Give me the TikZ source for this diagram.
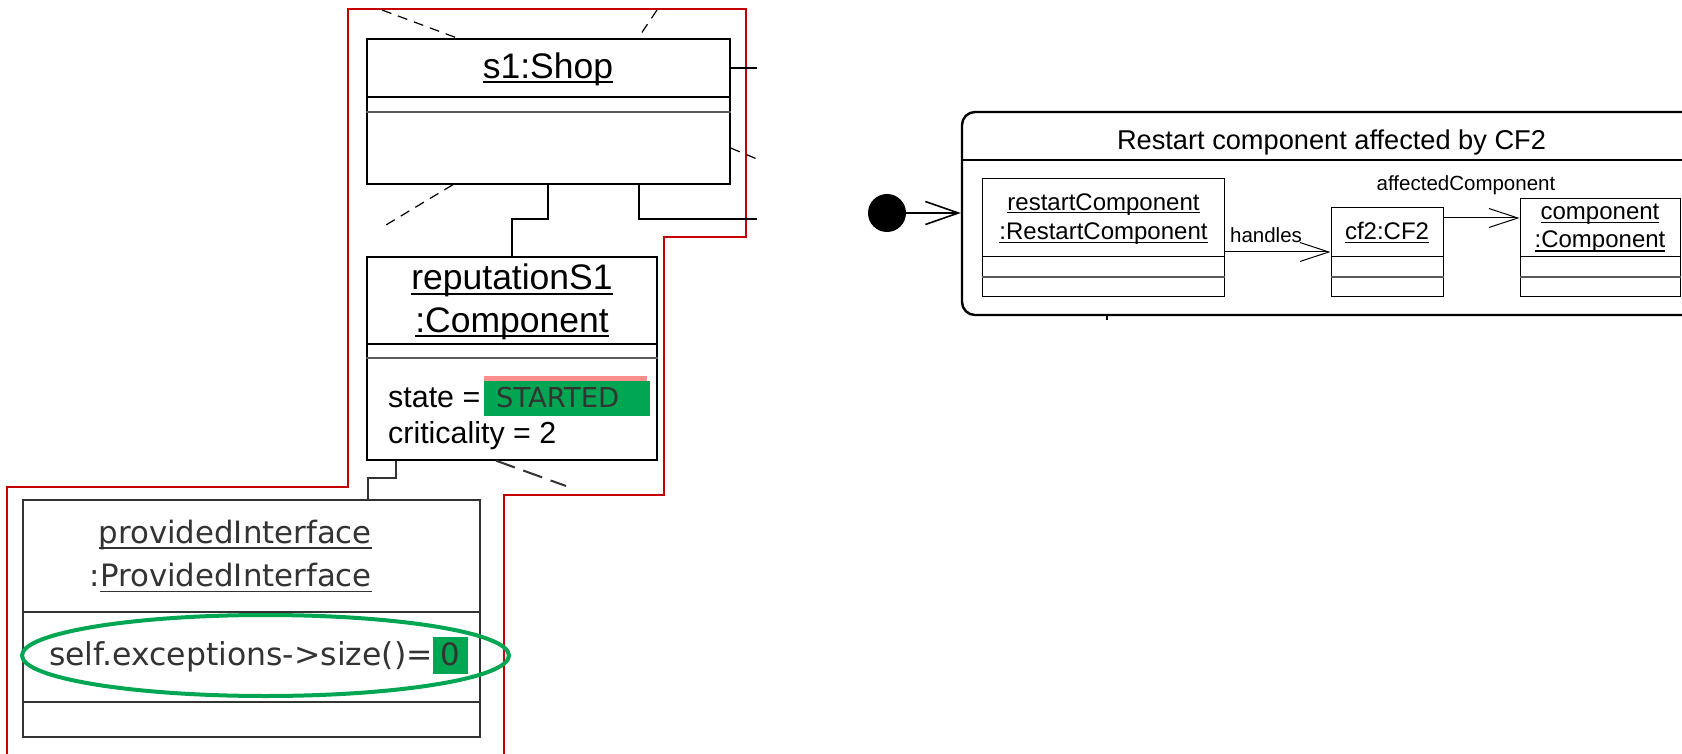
\documentclass[tikz,border=0pt]{standalone}
\usepackage{fontspec}
\setmainfont{Liberation Sans}
\newfontfamily\dejavu{DejaVu Sans}
\usetikzlibrary{arrows.meta,fit,calc}

\definecolor{okgreen}{RGB}{0,166,81}
\definecolor{hlred}{RGB}{196,0,0}
\definecolor{pinkbar}{RGB}{255,143,143}
\definecolor{inkgray}{RGB}{51,51,51}
\definecolor{rulegray}{RGB}{90,90,90}

% underline with an adjustable drop below the baseline
\newcommand\objul[2][0.11em]{\setbox0=\hbox{#2}\rlap{\rule[-#1]{\wd0}{0.05em}}\box0}

\tikzset{
  objbox/.style={draw=black, line width=1.3pt, inner sep=0pt},
  smallbox/.style={draw=black, line width=1pt, inner sep=0pt},
  graybox/.style={draw=inkgray, line width=2.3pt, inner sep=0pt},
  rule1/.style={draw=black, line width=1.3pt},
  rule2/.style={draw=rulegray, line width=1.8pt},
  srule1/.style={draw=black, line width=1pt},
  srule2/.style={draw=rulegray, line width=1.3pt},
  link/.style={draw=black, line width=1.3pt},
  frag/.style={draw=black, line width=1.2pt, dash pattern=on 10pt off 7pt},
  lbl/.style={inner sep=0pt, anchor=base},
  big/.style={lbl, font=\fontsize{35.5}{40}\selectfont},
  attr/.style={lbl, anchor=base west, font=\fontsize{30.4}{34}\selectfont},
  small/.style={lbl, font=\fontsize{24}{28}\selectfont},
  tiny/.style={lbl, font=\fontsize{20.5}{24}\selectfont},
  verd/.style={lbl, text=inkgray, font=\dejavu\fontsize{30.8}{35}\selectfont},
  assoc/.style={draw=black, line width=1pt, -{Straight Barb[length=29pt, width=19pt]}},
}

\begin{document}
\begin{tikzpicture}[x=1pt, y=-1pt]
\useasboundingbox (0,0) rectangle (1682,754);
\clip (0,0) rectangle (1682,754);

% highlighted region
\draw[hlred, line width=2.5pt] (7,770) -- (7,487) -- (348,487) -- (348,9) -- (746,9)
  -- (746,237) -- (664,237) -- (664,495) -- (504,495) -- (504,770);

% s1:Shop
\node[objbox, fit={(367,39)(730,184)}] (shop) {};
\draw[rule1] (shop.west |- 0,97) -- (shop.east |- 0,97);
\draw[rule2] (shop.west |- 0,112) -- (shop.east |- 0,112);
\node[big] (shopname) at (548,79) {\objul[0.1em]{s1:Shop}};

% reputationS1:Component
\node[objbox, fit={(367,257)(657,460)}] (rep) {};
\draw[rule1] (rep.west |- 0,344) -- (rep.east |- 0,344);
\draw[rule2] (rep.west |- 0,358) -- (rep.east |- 0,358);
\node[big] (repname1) at (512,290) {\objul[0.13em]{reputationS1}};
\node[big] (repname2) at (512,332) {\objul[0.14em]{:Component}};
\fill[pinkbar] (484,376) rectangle (647,381);
\fill[okgreen] (484,381) rectangle (650,416);
\node[attr] (stateattr) at (388,407) {state =};
\node[lbl, anchor=base west, text=inkgray, font=\dejavu\fontsize{27.4}{31}\selectfont] (stateval) at (496,407) {STARTED};
\node[attr] (critattr) at (388,443) {criticality = 2};

% providedInterface:ProvidedInterface
\node[graybox, fit={(23,500)(480,737)}] (prov) {};
\draw[draw=inkgray, line width=2.3pt] (prov.west |- 0,612) -- (prov.east |- 0,612);
\draw[draw=inkgray, line width=2.3pt] (prov.west |- 0,702) -- (prov.east |- 0,702);
\node[verd, anchor=base east] (provname1) at (372,543) {\objul[0.19em]{providedInterface}};
\node[verd, anchor=base east] (provname2) at (372,586) {:\objul[0.2em]{ProvidedInterface}};
\fill[okgreen] (433,637) rectangle (468,674);
\node[verd, anchor=base west, font=\dejavu\fontsize{31.5}{35}\selectfont] (provexpr) at (49,665) {self.exceptions->size()=};
\node[verd] (provval) at (450.5,665) {0};
\draw[okgreen, line width=4pt] (265.5,655.5) ellipse [x radius=243.5pt, y radius=40.5pt];

% links between the objects
\draw[link] (shop.south -| 548,0) |- (512,219) -- (rep.north -| 512,0);
\draw[draw=inkgray, line width=2pt] (rep.south -| 396,0) |- (368,478) -- (prov.north -| 368,0);

% links leaving towards objects further out
\coordinate (outA) at (757,68);
\coordinate (outB) at (757,219);
\coordinate (outC) at (382,10);
\coordinate (outD) at (657,10);
\coordinate (outE) at (757,159);
\coordinate (outF) at (381,228);
\coordinate (outG) at (566,486);
\draw[link] (shop.east |- outA) -- (outA);
\draw[link] (shop.south -| 639,0) |- (outB);
\draw[frag] (outC) -- (shop.north -| 458,0);
\draw[frag] (outD) -- (shop.north -| 638,0);
\draw[frag] (shop.east |- 0,148) -- (outE);
\draw[frag] (shop.south -| 453,0) -- (outF);
\draw[draw=inkgray, line width=2pt, dash pattern=on 20pt off 9pt] (rep.south -| 496,0) -- (outG);

% activity: restart component affected by CF2
\node[draw=black, line width=2.4pt, rounded corners=13pt, inner sep=0pt, fit={(962,112)(1740,315)}] (state) {};
\draw[draw=black, line width=2.4pt] (state.west |- 0,160) -- (state.east |- 0,160);
\node[lbl, font=\fontsize{27.2}{31}\selectfont] (statetitle) at (1331.5,150) {Restart component affected by CF2};
\draw[draw=black, line width=1.6pt] (state.south -| 1107,0) -- ++(0,4);

\node[circle, fill=black, minimum size=38pt, inner sep=0pt] (init) at (887,213) {};
\draw[draw=black, line width=1.6pt, -{Straight Barb[length=33pt, width=23pt]}] (init.east) -- (init -| state.west);

\node[smallbox, fit={(982,179)(1224,296)}] (restart) {};
\draw[srule1] (restart.west |- 0,257) -- (restart.east |- 0,257);
\draw[srule2] (restart.west |- 0,277) -- (restart.east |- 0,277);
\node[small] (restartname1) at (1103.5,211) {\objul[0.1em]{restartComponent}};
\node[small] (restartname2) at (1103.5,240) {\objul[0.12em]{:RestartComponent}};

\node[smallbox, fit={(1331,208)(1443,296)}] (cf2) {};
\draw[srule1] (cf2.west |- 0,257) -- (cf2.east |- 0,257);
\draw[srule2] (cf2.west |- 0,277) -- (cf2.east |- 0,277);
\node[small] (cf2name) at (1387,240) {\objul[0.12em]{cf2:CF2}};

\node[smallbox, fit={(1520,199)(1680,296)}] (comp) {};
\draw[srule1] (comp.west |- 0,257) -- (comp.east |- 0,257);
\draw[srule2] (comp.west |- 0,277) -- (comp.east |- 0,277);
\node[small] (compname1) at (1600,220) {\objul[0.12em]{component}};
\node[small] (compname2) at (1600,248) {\objul[0.15em]{:Component}};

\draw[assoc] (restart.east |- 0,252) -- (cf2.west |- 0,252);
\node[tiny] (handleslbl) at (1266,243) {handles};
\draw[assoc] (cf2.east |- 0,218) -- (comp.west |- 0,218);
\node[tiny] (affectedlbl) at (1466,191) {affectedComponent};
\end{tikzpicture}
\end{document}
